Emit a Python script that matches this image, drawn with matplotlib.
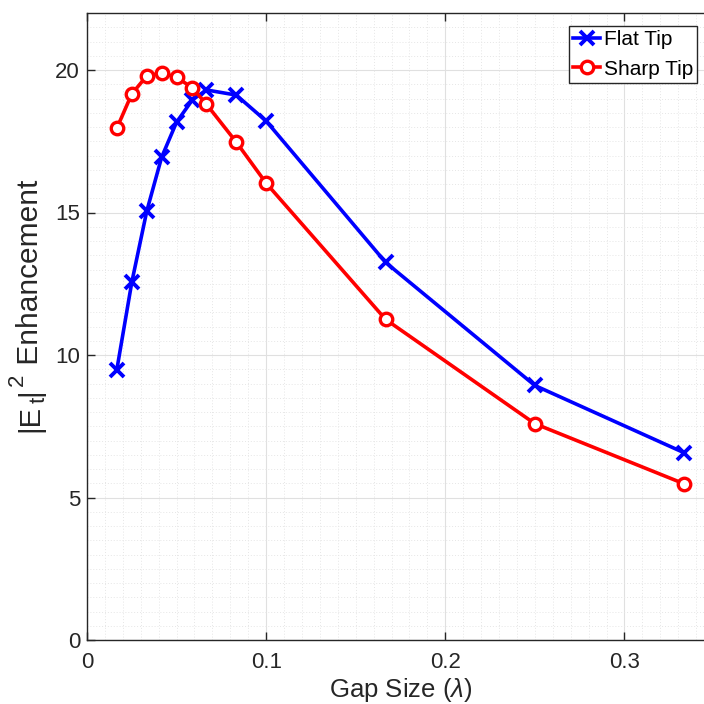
import matplotlib
matplotlib.use("Agg")
import matplotlib.pyplot as plt
from matplotlib.ticker import MultipleLocator
from matplotlib.transforms import IdentityTransform

plt.rcParams['font.family'] = ['Liberation Sans', 'DejaVu Sans']
plt.rcParams['mathtext.fontset'] = 'custom'
plt.rcParams['mathtext.rm'] = 'Liberation Sans'
plt.rcParams['mathtext.it'] = 'Liberation Sans:italic'

gap = [1/60, 1/40, 1/30, 1/24, 1/20, 1/17, 1/15, 1/12, 1/10, 1/6, 1/4, 1/3]
flat_tip = [9.49, 12.55, 15.04, 16.94, 18.17, 18.95, 19.30, 19.12, 18.21, 13.25, 8.93, 6.57]
sharp_tip = [17.96, 19.16, 19.79, 19.89, 19.75, 19.37, 18.80, 17.47, 16.03, 11.25, 7.59, 5.48]

xticks = [0, 0.1, 0.2, 0.3]
yticks = [0, 5, 10, 15, 20]

fig = plt.figure(figsize=(7.04, 7.04), dpi=100)
ax = fig.add_axes([87/704, 64/704, 627/704, 627/704])

ax.plot(gap, flat_tip, color='#0000ff', lw=2.6, marker='x', ms=10, mew=2.8,
        label='Flat Tip', zorder=3)
ax.plot(gap, sharp_tip, color='#ff0000', lw=2.6, marker='o', ms=9, mew=2.4,
        mfc='white', label='Sharp Tip', zorder=3)

ax.set_xlim(0, 0.35)
ax.set_ylim(0, 22)
ax.set_xticks(xticks)
ax.set_xticklabels(['0', '0.1', '0.2', '0.3'])
ax.set_yticks(yticks)
ax.xaxis.set_minor_locator(MultipleLocator(0.01))
ax.yaxis.set_minor_locator(MultipleLocator(0.5))

ax.grid(True, which='major', color='#e0e0e0', lw=0.8)
ax.grid(True, which='minor', color='#e6e6e6', lw=0.7, ls=(0, (1, 2)))
ax.set_axisbelow(True)

ax.tick_params(which='major', direction='in', length=6, width=1.0,
               top=True, right=True, labelsize=16, colors='#262626')
ax.tick_params(axis='x', pad=9)
ax.tick_params(axis='y', pad=5)
ax.tick_params(which='minor', length=0)
for s in ax.spines.values():
    s.set_color('#262626')
    s.set_linewidth(1.0)

ax.set_xlabel(r'Gap Size ($\lambda$)', fontsize=18.5, color='#262626')
ax.xaxis.set_label_coords(0.5, (640 - 676) / 627)

# y label built from pieces (MATLAB TeX-style sub/superscripts)
renderer = fig.canvas.get_renderer()
pieces = [('|E', 21, 0), ('t', 16, 7), ('|', 21, 0), ('2', 16, -15), (' Enhancement', 21.5, 0)]
xb = 38
ypos = 704 - 432
for txt, size, dx in pieces:
    t = fig.text(xb + dx, ypos, txt, rotation=90, rotation_mode='anchor',
                 ha='left', va='baseline', fontsize=size, color='#262626',
                 transform=IdentityTransform())
    ext = t.get_window_extent(renderer)
    ypos += ext.height + 1.5

leg = ax.legend(loc='upper right', bbox_to_anchor=(697/704, 1 - 26/704),
                bbox_transform=fig.transFigure, fontsize=15, frameon=True,
                fancybox=False, edgecolor='#262626', framealpha=1,
                handlelength=1.3, handletextpad=0.15, borderpad=0.2,
                labelspacing=0.5, borderaxespad=0)
leg.get_frame().set_linewidth(1.0)

fig.savefig('out.png', dpi=100)
